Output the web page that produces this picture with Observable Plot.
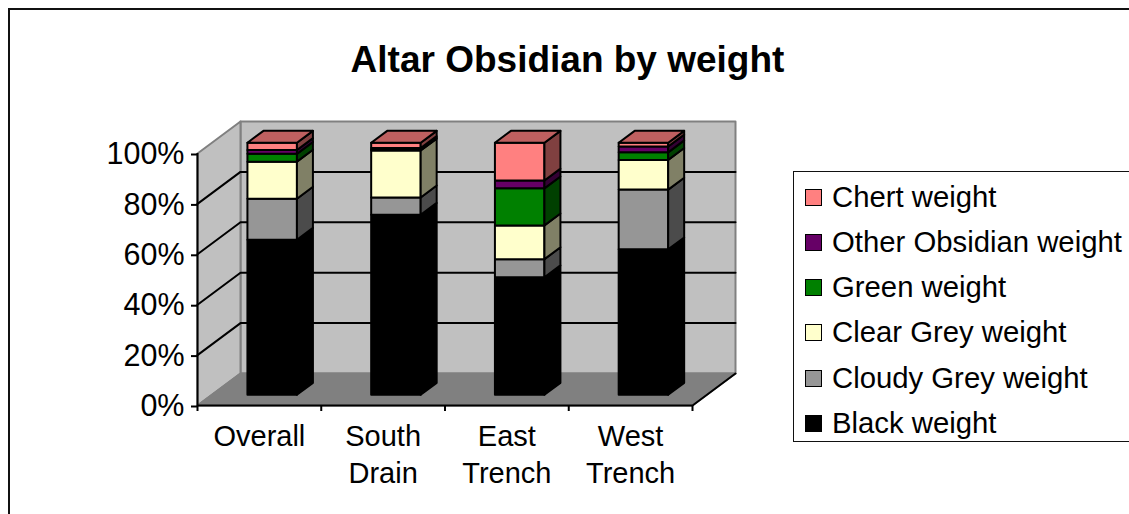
<!DOCTYPE html>
<html>
<head>
<meta charset="utf-8">
<script src="https://cdn.jsdelivr.net/npm/d3@7"></script>
<script src="https://cdn.jsdelivr.net/npm/@observablehq/plot@0.6"></script>
<style>
  html, body { margin: 0; padding: 0; background: #fff; overflow: hidden; }
  #page { position: relative; width: 1129px; height: 514px; overflow: hidden; font-family: "Liberation Sans", Arial, sans-serif; color: #000; }
  #frame { position: absolute; left: 8px; top: 8px; width: 1200px; height: 600px; border: 2.5px solid #111; box-sizing: border-box; }
  #title { position: absolute; left: 0; width: 1135px; top: 38px; text-align: center; font-size: 37px; font-weight: bold; line-height: 44px; }
  #chart { position: absolute; left: 0; top: 0; }
  #legend { position: absolute; left: 793px; top: 171px; width: 400px; height: 271px; border: 1.5px solid #111; box-sizing: border-box; background: #fff; }
  .row { position: absolute; left: 11px; height: 30px; font-size: 29.3px; line-height: 30px; white-space: nowrap; }
  .sw { position: absolute; left: 0; top: 7px; width: 17px; height: 17px; border: 1.5px solid #000; box-sizing: border-box; }
  .lb { position: absolute; left: 27px; top: 0; }
</style>
</head>
<body>
<div id="page">
  <div id="frame"></div>
  <div id="chart"></div>
  <div id="title">Altar Obsidian by weight</div>
  <div id="legend"></div>
</div>
<script>
const categories = ["Overall", "South\nDrain", "East\nTrench", "West\nTrench"];
const seriesNames = ["Black weight", "Cloudy Grey weight", "Clear Grey weight", "Green weight", "Other Obsidian weight", "Chert weight"];
const black  = [61.5, 71.4, 46.6, 57.7];
const cloudy = [16.3, 6.9, 7.2, 23.7];
const clear  = [14.7, 18.6, 13.4, 11.8];
const green  = [3.1, 0.4, 14.7, 3.0];
const other  = [1.5, 0.6, 3.1, 2.3];
const chert  = [2.9, 2.1, 15.0, 1.5];
const percentTicks = [0, 20, 40, 60, 80, 100];

const frontColors = ["#000000", "#969696", "#FFFFCC", "#008000", "#660066", "#FF8080"];
const sideColors  = ["#000000", "#4B4B4B", "#808066", "#004000", "#330033", "#804040"];
const topColor = "#BF6060";
const values = [black, cloudy, clear, green, other, chert];

// oblique depth projection, expressed in data units
const wallDX = 0.3475, wallDY = 12.7;
const zNear = 0.314, zFar = 0.686, halfBar = 0.2;
const P = (x, y, z) => ({x: x + z * wallDX, y: y + z * wallDY});

const polys = [];
let nid = 0;
function poly(pts, fill) {
  const id = nid++;
  for (const p of [...pts, pts[0]]) polys.push({x: p.x, y: p.y, id, fill});
}
categories.forEach((c, i) => {
  const L = i + 0.5 - halfBar, R = i + 0.5 + halfBar;
  let acc = 0;
  values.forEach((arr, s) => {
    const a = acc, b = acc + arr[i];
    acc = b;
    poly([P(L, a, zNear), P(R, a, zNear), P(R, b, zNear), P(L, b, zNear)], frontColors[s]);
    poly([P(R, a, zNear), P(R, a, zFar), P(R, b, zFar), P(R, b, zNear)], sideColors[s]);
  });
  poly([P(L, acc, zNear), P(R, acc, zNear), P(R, acc, zFar), P(L, acc, zFar)], topColor);
});

// walls and floor
const n = categories.length;
const wallPolys = [];
let wid = 0;
function wall(pts, fill) {
  const id = wid++;
  for (const p of [...pts, pts[0]]) wallPolys.push({x: p.x, y: p.y, id, fill});
}
wall([P(0, 0, 1), P(n, 0, 1), P(n, 100, 1), P(0, 100, 1)], "#C0C0C0");
wall([P(0, 0, 0), P(0, 0, 1), P(0, 100, 1), P(0, 100, 0)], "#C0C0C0");
wall([P(0, 0, 0), P(n, 0, 0), P(n, 0, 1), P(0, 0, 1)], "#808080");

const gridLines = percentTicks.filter(t => t > 0 && t < 100).flatMap(t => [
  {...P(0, t, 0), t}, {...P(0, t, 1), t}, {...P(n, t, 1), t}
]);

const chart = Plot.plot({
  width: 1129,
  height: 514,
  marginLeft: 197,
  marginRight: 437,
  marginTop: 153,
  marginBottom: 109,
  style: {fontFamily: "'Liberation Sans', Arial, sans-serif", fontSize: "28px", color: "#000", background: "transparent", overflow: "visible"},
  x: {domain: [0, n], axis: null},
  y: {domain: [0, 100], axis: null},
  color: {type: "identity"},
  marks: [
    Plot.line(wallPolys, {x: "x", y: "y", z: "id", fill: "fill", stroke: "#808080", strokeWidth: 2}),
    Plot.line(gridLines, {x: "x", y: "y", z: "t", stroke: "#000", strokeWidth: 2}),
    Plot.line([P(n, 0, 0), P(n, 0, 1)], {x: "x", y: "y", stroke: "#000", strokeWidth: 2}),
    Plot.ruleX([0], {y1: 0, y2: 100, stroke: "#000", strokeWidth: 2}),
    Plot.ruleY([0], {x1: 0, x2: n, stroke: "#000", strokeWidth: 2}),
    Plot.line(polys, {x: "x", y: "y", z: "id", fill: "fill", stroke: "#000", strokeWidth: 2, dx: -0.7, dy: -0.7}),
    Plot.axisY(percentTicks, {anchor: "left", label: null, tickSize: 6, tickPadding: 7, strokeWidth: 2, stroke: "#000", fill: "#000", fontSize: 30.5, dy: 1, tickFormat: d => d + "%"}),
    Plot.axisX([0, 1, 2, 3, 4], {anchor: "bottom", label: null, tickSize: 6, strokeWidth: 2, stroke: "#000", tickFormat: () => ""}),
    Plot.text(categories, {
      x: (d, i) => i + 0.5, y: 0, dy: 14, text: d => d, lineAnchor: "top", lineHeight: 1.28, fontSize: 29, fill: "#000"
    })
  ]
});
document.getElementById("chart").appendChild(chart);

const legend = document.getElementById("legend");
const rowTops = [10, 55, 100, 145, 191, 236];
[...seriesNames].reverse().forEach((name, i) => {
  const color = frontColors[seriesNames.length - 1 - i];
  const row = document.createElement("div");
  row.className = "row";
  row.style.top = rowTops[i] + "px";
  row.innerHTML = `<div class="sw" style="background:${color}"></div><div class="lb">${name}</div>`;
  legend.appendChild(row);
});
</script>
</body>
</html>
